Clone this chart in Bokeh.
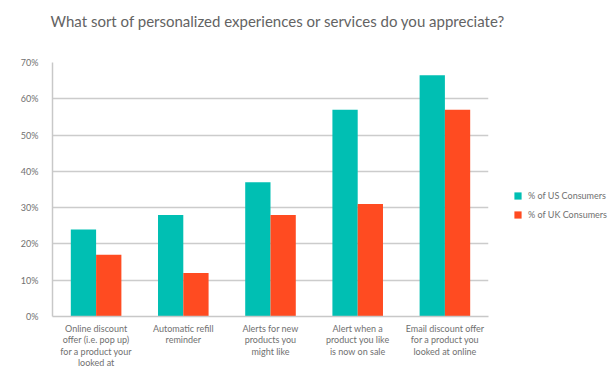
from bokeh.plotting import figure
from bokeh.models import FactorRange, ColumnDataSource, Legend, LegendItem, NumeralTickFormatter, FixedTicker, Title
from bokeh.transform import dodge
from bokeh.embed import file_html
from bokeh.resources import INLINE

title_text = "What sort of personalized experiences or services do you appreciate?"
categories = [
    "Online discount\noffer (i.e. pop up)\nfor a product your\nlooked at",
    "Automatic refill\nreminder",
    "Alerts for new\nproducts you\nmight like",
    "Alert when a\nproduct you like\nis now on sale",
    "Email discount offer\nfor a product you\nlooked at online",
]
us_values = [0.24, 0.28, 0.37, 0.57, 0.665]
uk_values = [0.17, 0.12, 0.28, 0.31, 0.57]
series_names = ["% of US Consumers", "% of UK Consumers"]
y_ticks = [0, 0.1, 0.2, 0.3, 0.4, 0.5, 0.6, 0.7]

TEAL = "#00BFB3"
ORANGE = "#FF4B21"
FONT = "Lato"

src = ColumnDataSource(dict(cat=categories, us=us_values, uk=uk_values))

p = figure(
    x_range=FactorRange(*categories, range_padding=0),
    y_range=(0, 0.7),
    frame_width=436, frame_height=254,
    output_backend="svg", toolbar_location=None,
    min_border_left=52, min_border_top=62, min_border_bottom=4, min_border_right=10,
)
p.title.text = title_text
p.title.text_font = FONT
p.title.text_font_size = "15px"
p.title.text_font_style = "normal"
p.title.text_color = "#636363"
p.title.offset = -2
p.title.standoff = 0

spacer = Title(text=" ", text_font_size="1px", standoff=30)
p.add_layout(spacer, "above")

r_us = p.vbar(x=dodge("cat", -0.145, range=p.x_range), top="us", width=0.29, source=src,
              fill_color=TEAL, line_color=None)
r_uk = p.vbar(x=dodge("cat", 0.145, range=p.x_range), top="uk", width=0.29, source=src,
              fill_color=ORANGE, line_color=None)

p.yaxis.ticker = FixedTicker(ticks=y_ticks)
p.yaxis.formatter = NumeralTickFormatter(format="0%")
for ax in (p.xaxis[0], p.yaxis[0]):
    ax.axis_line_color = "#c8c8c8"
    ax.axis_line_width = 1.5
    ax.major_tick_line_color = None
    ax.minor_tick_line_color = None
    ax.major_label_text_font = FONT
    ax.major_label_text_color = "#707070"
p.yaxis.major_label_text_font_size = "9px"
p.xaxis.major_label_text_font_size = "9px"
p.xaxis.major_label_text_line_height = 1.05
p.xaxis.major_label_standoff = 0
p.yaxis.major_label_standoff = 8

p.xgrid.grid_line_color = None
p.ygrid.grid_line_color = "#cccccc"
p.ygrid.grid_line_width = 1.5
p.outline_line_color = None

legend = Legend(items=[LegendItem(label=series_names[0], renderers=[r_us]),
                       LegendItem(label=series_names[1], renderers=[r_uk])],
                location=(25, 96))
legend.label_text_font = FONT
legend.label_text_font_size = "9px"
legend.label_text_color = "#707070"
legend.glyph_width = 9
legend.glyph_height = 9
legend.spacing = 8
legend.label_standoff = 6
legend.border_line_color = None
legend.background_fill_alpha = 0
p.add_layout(legend, "right")

open("out.html", "w").write(file_html(p, INLINE))
